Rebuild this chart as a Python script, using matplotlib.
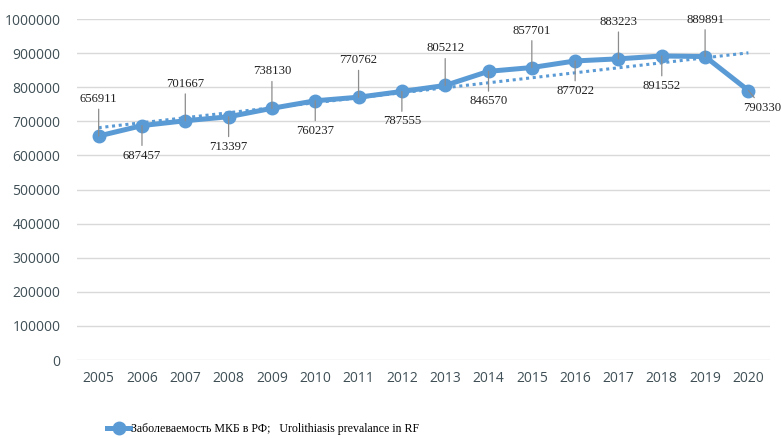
import numpy as np
import matplotlib.pyplot as plt
from matplotlib.ticker import FuncFormatter

years = ['2005', '2006', '2007', '2008', '2009', '2010', '2011', '2012',
         '2013', '2014', '2015', '2016', '2017', '2018', '2019', '2020']
cases = [656911, 687457, 701667, 713397, 738130, 760237, 770762, 787555,
         805212, 846570, 857701, 877022, 883223, 891552, 889891, 790330]
legend_label = 'Заболеваемость МКБ в РФ;   Urolithiasis prevalance in RF'

blue = '#5b9bd5'
tick_col = '#3f4f55'

fig = plt.figure(figsize=(7.81, 4.38), dpi=100)
ax = fig.add_axes([0.0986, 0.178, 0.8874, 0.7786])

x = np.arange(len(years))

# linear trend
k, b = np.polyfit(x, cases, 1)
ax.plot(x, k * x + b, linestyle=(0, (1, 1.2)), color=blue, lw=2.2, zorder=2)

ax.plot(x, cases, color=blue, lw=3.6, marker='o', ms=9, zorder=3,
        label=legend_label)

# value labels, alternating above / below
for i, v in enumerate(cases):
    if i == len(cases) - 1:
        off = (14, -17)
    elif i % 2 == 0:
        off = (0, 37)
    else:
        off = (0, -30)
    ax.annotate(str(v), xy=(i, v), xytext=off, textcoords='offset pixels',
                ha='center', va='center', fontsize=9.2,
                family='Liberation Serif', color='#222222',
                arrowprops=dict(arrowstyle='-', color='#8c8c8c', lw=0.9,
                                shrinkA=1, shrinkB=0), zorder=4)

ax.set_xlim(-0.5, len(years) - 0.5)
ax.set_ylim(0, 1000000)
ax.set_yticks(np.arange(0, 1000001, 100000))
ax.yaxis.set_major_formatter(FuncFormatter(lambda v, p: '%d' % v))
ax.set_xticks(x)
ax.set_xticklabels(years)
ax.tick_params(length=0, labelsize=10, labelcolor=tick_col, pad=8)
ax.tick_params(axis='y', pad=12)
for lab in ax.get_xticklabels() + ax.get_yticklabels():
    lab.set_family('Open Sans')

ax.grid(axis='y', color='#d9d9d9', lw=1)
ax.set_axisbelow(True)
for s in ax.spines.values():
    s.set_visible(False)

leg = fig.legend(loc='center', bbox_to_anchor=(0.337, 0.02), frameon=False,
                 prop={'family': 'Liberation Serif', 'size': 8.6},
                 handlelength=1.9, handletextpad=0.1)

fig.savefig('out.png', dpi=100)
